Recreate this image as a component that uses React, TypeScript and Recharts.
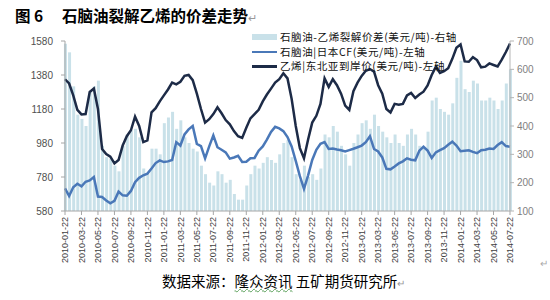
import React from 'react';
import { ComposedChart, Bar, Line, XAxis, YAxis, Legend } from 'recharts';

// ---- categories (half-monthly observation dates, 2010-01-22 .. 2014-07-22) ----
const START_YEAR = 2010;
const MONTH_COUNT = 54;
const pad = (n: number) => (n < 10 ? '0' + n : '' + n);
const DATES: string[] = [];
for (let m = 0; m <= MONTH_COUNT; m++) {
  const y = START_YEAR + Math.floor(m / 12);
  const mo = (m % 12) + 1;
  DATES.push(`${y}-${pad(mo)}-22`);
  if (m < MONTH_COUNT) {
    const y2 = START_YEAR + Math.floor((m + 1) / 12);
    const mo2 = ((m + 1) % 12) + 1;
    DATES.push(`${y2}-${pad(mo2)}-07`);
  }
}

const TICK_LABELS = [
  '2010-01-22', '2010-03-22', '2010-05-22', '2010-07-22', '2010-09-22', '2010-11-22',
  '2011-01-22', '2011-03-22', '2011-05-22', '2011-07-22', '2011-09-22', '2011-11-22',
  '2012-01-22', '2012-03-22', '2012-05-22', '2012-07-22', '2012-09-22', '2012-11-22',
  '2013-01-22', '2013-03-22', '2013-05-22', '2013-07-22', '2013-09-22', '2013-11-22',
  '2014-01-22', '2014-03-22', '2014-05-22', '2014-07-22',
];

// ---- series values ----
// 石脑油-乙烯裂解价差 (美元/吨), right axis
const SPREAD = [
  690, 660, 540, 440, 425, 400, 520, 540, 560, 330,
  290, 285, 260, 240, 330, 370, 385, 390, 360, 250,
  230, 320, 320, 300, 410, 430, 450, 390, 420, 360,
  340, 320, 310, 260, 230, 200, 190, 240, 230, 200,
  210, 160, 140, 140, 190, 230, 260, 250, 270, 290,
  280, 270, 300, 340, 350, 290, 230, 210, 260, 220,
  230, 210, 250, 370, 360, 400, 380, 330, 300, 260,
  340, 370, 410, 420, 390, 440, 400, 380, 360, 340,
  370, 340, 330, 370, 390, 370, 330, 320, 380, 490,
  500, 460, 450, 440, 480, 570, 630, 530, 520, 560,
  550, 490, 490, 500, 490, 460, 490, 550, 600,
];

// 石脑油|日本CF (美元/吨), left axis
const NAPHTHA = [
  713, 668, 720, 740, 725, 752, 760, 780, 665, 662,
  642, 625, 640, 694, 672, 670, 698, 750, 775, 790,
  800, 830, 862, 878, 868, 872, 880, 985, 965, 1030,
  1060, 1080, 975, 962, 890, 960, 1025, 955, 940, 925,
  888, 895, 905, 868, 870, 890, 892, 935, 960, 1000,
  1045, 1075, 1066, 1050, 1015, 960, 875, 785, 710, 790,
  880, 940, 975, 985, 945, 948, 942, 937, 930, 938,
  946, 955, 965, 985, 1020, 945, 930, 895, 828, 825,
  842, 860, 872, 890, 882, 878, 935, 958, 935, 892,
  925, 938, 950, 970, 988, 965, 932, 935, 937, 928,
  920, 938, 940, 948, 945, 968, 985, 962, 958,
];

// 乙烯|东北亚到岸价 (美元/吨), left axis
const ETHYLENE = [
  1355, 1330, 1260, 1175, 1148, 1150, 1280, 1300, 1180, 945,
  915, 900, 860, 880, 965, 1020, 1055, 1135, 1080, 985,
  995, 1160, 1185, 1225, 1260, 1295, 1335, 1325, 1340, 1375,
  1380, 1350, 1270, 1180, 1100, 1120, 1150, 1190, 1155, 1115,
  1090, 1050, 1020, 1010, 1070, 1125, 1150, 1175, 1225, 1265,
  1300, 1335, 1355, 1390, 1360, 1240, 1080, 950, 890, 1000,
  1100, 1140, 1210, 1360, 1310, 1355, 1320, 1270, 1200, 1175,
  1285, 1335, 1375, 1405, 1415, 1400, 1320, 1270, 1180, 1160,
  1210, 1205, 1210, 1260, 1275, 1245, 1265, 1282, 1318, 1380,
  1428, 1392, 1402, 1420, 1475, 1540, 1560, 1460, 1458, 1485,
  1468, 1425, 1429, 1448, 1439, 1430, 1470, 1515, 1565,
];

const LEFT_TICKS = [580, 780, 980, 1180, 1380, 1580];
const RIGHT_TICKS = [100, 200, 300, 400, 500, 600, 700];

const SERIES_NAMES = [
  '石脑油-乙烯裂解价差(美元/吨)-右轴',
  '石脑油|日本CF(美元/吨)-左轴',
  '乙烯|东北亚到岸价(美元/吨)-左轴',
];

const COLORS = { spread: '#c9e1e9', naphtha: '#4a78b8', ethylene: '#1d2b47' };

const data = DATES.map((d, i) => ({
  idx: i,
  date: d,
  spread: SPREAD[i],
  naphtha: NAPHTHA[i],
  ethylene: ETHYLENE[i],
}));

const TICK_IDX = TICK_LABELS.map((l) => DATES.indexOf(l));

const CJK = '"Noto Sans CJK SC", "Noto Sans", sans-serif';
const LATIN = '"Liberation Sans", Arial, sans-serif';

const XTick = (props: any) => {
  const { x, y, payload } = props;
  return (
    <g transform={`translate(${x},${y})`}>
      <text
        x={0}
        y={0}
        transform="rotate(-90)"
        textAnchor="end"
        dy="0.35em"
        fontSize={9}
        fill="#404040"
        fontFamily={LATIN}
      >
        {DATES[payload.value]}
      </text>
    </g>
  );
};

const ROW_H = 14.5;

const renderLegend = () => (
  <div style={{ fontFamily: CJK, fontSize: 10.5, color: '#111', lineHeight: `${ROW_H}px`, letterSpacing: 0.6 }}>
    {SERIES_NAMES.map((name, k) => (
      <div key={k} style={{ display: 'flex', alignItems: 'center', height: ROW_H, whiteSpace: 'nowrap' }}>
        <div style={{ width: 25, height: ROW_H, display: 'flex', alignItems: 'center', marginRight: 3 }}>
          {k === 0 ? (
            <div style={{ width: 25, height: 6, background: COLORS.spread }} />
          ) : (
            <div
              style={{
                width: 25,
                height: 2.5,
                background: k === 1 ? COLORS.naphtha : COLORS.ethylene,
              }}
            />
          )}
        </div>
        <span>{name}</span>
      </div>
    ))}
  </div>
);

export default function App() {
  return (
    <div
      style={{
        position: 'absolute',
        left: 0,
        top: 0,
        width: 550,
        height: 300,
        background: '#fff',
        overflow: 'hidden',
      }}
    >
      <div
        style={{
          position: 'absolute',
          left: 15,
          top: 5,
          fontFamily: CJK,
          fontWeight: 'bold',
          fontSize: 15.5,
          lineHeight: '20px',
          whiteSpace: 'nowrap',
          color: '#000',
        }}
      >
        图 6
      </div>
      <div
        style={{
          position: 'absolute',
          left: 62,
          top: 5,
          fontFamily: CJK,
          fontWeight: 'bold',
          fontSize: 15.5,
          lineHeight: '20px',
          whiteSpace: 'nowrap',
          color: '#000',
        }}
      >
        石脑油裂解乙烯的价差走势
        <span style={{ fontWeight: 'normal', fontSize: 11, color: '#999' }}>↵</span>
      </div>

      <div style={{ position: 'absolute', left: 0, top: 0 }}>
        <ComposedChart
          width={550}
          height={300}
          data={data}
          margin={{ top: 41, right: 8, bottom: 34, left: 8 }}
        >
          <XAxis
            dataKey="idx"
            type="number"
            domain={[0, 108]}
            ticks={TICK_IDX}
            interval={0}
            tick={<XTick />}
            tickSize={4}
            height={55}
            axisLine={{ stroke: '#a6a6a6' }}
            tickLine={{ stroke: '#a6a6a6' }}
          />
          <YAxis
            yAxisId="left"
            orientation="left"
            domain={[580, 1580]}
            ticks={LEFT_TICKS}
            width={57}
            tickSize={4}
            tickMargin={8}
            axisLine={{ stroke: '#a6a6a6' }}
            tickLine={{ stroke: '#a6a6a6' }}
            tick={{ fontSize: 10, fill: '#505050', fontFamily: LATIN }}
            allowDataOverflow
          />
          <YAxis
            yAxisId="right"
            orientation="right"
            domain={[100, 700]}
            ticks={RIGHT_TICKS}
            width={32}
            tickSize={4}
            tickMargin={3}
            axisLine={{ stroke: '#b5b5b5' }}
            tickLine={{ stroke: '#b5b5b5' }}
            tick={{ fontSize: 10, fill: '#7f7f7f', fontFamily: LATIN }}
            allowDataOverflow
          />
          <Legend
            layout="vertical"
            verticalAlign="middle"
            align="center"
            content={renderLegend}
            wrapperStyle={{ left: 252, top: 30, width: 270, height: 44 }}
          />
          <Bar
            yAxisId="right"
            dataKey="spread"
            fill={COLORS.spread}
            barSize={3}
            isAnimationActive={false}
          />
          <Line
            yAxisId="left"
            type="linear"
            dataKey="naphtha"
            stroke={COLORS.naphtha}
            strokeWidth={2.5}
            dot={false}
            isAnimationActive={false}
          />
          <Line
            yAxisId="left"
            type="linear"
            dataKey="ethylene"
            stroke={COLORS.ethylene}
            strokeWidth={2.5}
            dot={false}
            isAnimationActive={false}
          />
        </ComposedChart>
      </div>

      <div
        style={{
          position: 'absolute',
          left: 162,
          top: 271,
          fontFamily: CJK,
          fontSize: 14.5,
          lineHeight: '20px',
          whiteSpace: 'nowrap',
          color: '#000',
        }}
      >
        数据来源：
        <span style={{ textDecoration: 'underline wavy #5aa05a', textDecorationThickness: 1 }}>隆众资讯</span>
        {' '}五矿期货研究所
        <span style={{ fontSize: 10, color: '#999' }}>↵</span>
      </div>
      <div
        style={{
          position: 'absolute',
          left: 540,
          top: 255,
          fontSize: 10,
          color: '#aaa',
          fontFamily: CJK,
        }}
      >
        ↵
      </div>
    </div>
  );
}
